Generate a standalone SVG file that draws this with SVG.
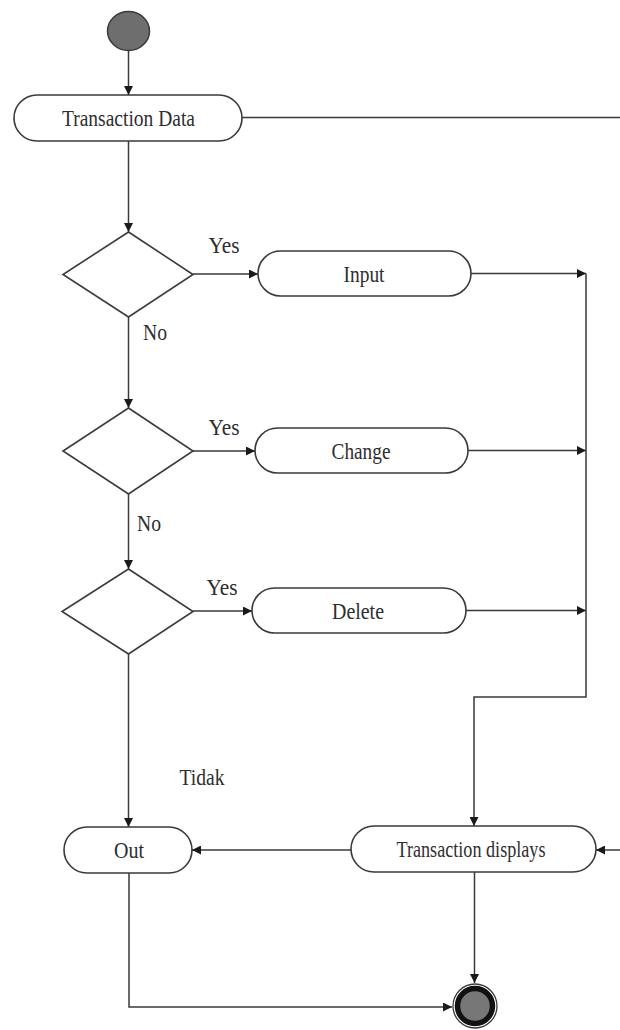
<svg xmlns="http://www.w3.org/2000/svg" width="620" height="1030" viewBox="0 0 620 1030">
  <style>
    .pill { fill: #ffffff; stroke: #3a3a3a; stroke-width: 1.6; }
    .dec { fill: #ffffff; stroke: #3a3a3a; stroke-width: 1.6; }
    .lbl { font-family: "Liberation Serif", "Times New Roman", serif; font-size: 24px; fill: #2e2e2e; text-anchor: middle; }
    .edge { fill: none; stroke: #3a3a3a; stroke-width: 1.5; }
    .arr { marker-end: url(#head); }
  </style>
  <defs>
    <marker id="head" viewBox="0 0 10 10" refX="10" refY="5" markerWidth="10" markerHeight="9" markerUnits="userSpaceOnUse" orient="auto">
      <path d="M0,0 L10,5 L0,10 Z" fill="#1a1a1a"/>
    </marker>
  </defs>

  <rect width="620" height="1030" fill="#ffffff"/>

  <!-- connectors -->
  <g id="connectors">
    <line class="edge arr" x1="128.5" y1="50" x2="128.5" y2="95"/>
    <line class="edge" x1="242" y1="117.5" x2="620" y2="117.5"/>
    <line class="edge arr" x1="128.5" y1="141" x2="128.5" y2="232"/>
    <line class="edge arr" x1="193" y1="274" x2="258" y2="274"/>
    <line class="edge arr" x1="128.5" y1="317" x2="128.5" y2="408"/>
    <line class="edge arr" x1="193" y1="451" x2="255" y2="451"/>
    <line class="edge arr" x1="128.5" y1="494" x2="128.5" y2="569"/>
    <line class="edge arr" x1="193" y1="611" x2="252" y2="611"/>
    <line class="edge arr" x1="128.5" y1="654" x2="128.5" y2="827"/>
    <line class="edge arr" x1="471" y1="273.5" x2="586" y2="273.5"/>
    <line class="edge arr" x1="468" y1="450.5" x2="586" y2="450.5"/>
    <line class="edge arr" x1="466" y1="610.5" x2="586" y2="610.5"/>
    <polyline class="edge arr" points="586,273.5 586,697 474,697 474,826"/>
    <line class="edge arr" x1="351" y1="850" x2="192" y2="850"/>
    <line class="edge arr" x1="620" y1="850" x2="596" y2="850"/>
    <line class="edge arr" x1="474.5" y1="872" x2="474.5" y2="983"/>
    <polyline class="edge arr" points="129,873 129,1007 452,1007"/>
  </g>

  <!-- start -->
  <g id="start">
    <ellipse cx="128.5" cy="31" rx="21" ry="19.5" fill="#6e6e6e" stroke="#3a3a3a" stroke-width="1.5"/>
  </g>

  <g id="transaction-data">
    <rect class="pill" x="14" y="95" width="228" height="46" rx="23"/>
    <text class="lbl" x="128.5" y="126" textLength="133" lengthAdjust="spacingAndGlyphs">Transaction Data</text>
  </g>

  <g id="decision-input">
    <polygon class="dec" points="128.5,232 193,274.5 128.5,317 63,274.5"/>
  </g>
  <g id="input">
    <rect class="pill" x="258" y="251" width="213" height="45" rx="22.5"/>
    <text class="lbl" x="364" y="282" textLength="41" lengthAdjust="spacingAndGlyphs">Input</text>
  </g>

  <g id="decision-change">
    <polygon class="dec" points="128.5,408 193,451 128.5,494 63,451"/>
  </g>
  <g id="change">
    <rect class="pill" x="255" y="428" width="213" height="45" rx="22.5"/>
    <text class="lbl" x="361" y="459" textLength="59" lengthAdjust="spacingAndGlyphs">Change</text>
  </g>

  <g id="decision-delete">
    <polygon class="dec" points="128.5,569 193,611.5 128.5,654 62,611.5"/>
  </g>
  <g id="delete">
    <rect class="pill" x="252" y="588" width="214" height="45" rx="22.5"/>
    <text class="lbl" x="358" y="619" textLength="52" lengthAdjust="spacingAndGlyphs">Delete</text>
  </g>

  <g id="out">
    <rect class="pill" x="64" y="827" width="128" height="46" rx="23"/>
    <text class="lbl" x="129" y="858" textLength="30" lengthAdjust="spacingAndGlyphs">Out</text>
  </g>

  <g id="transaction-displays">
    <rect class="pill" x="351" y="826" width="245" height="46" rx="23"/>
    <text class="lbl" x="471" y="857" textLength="149" lengthAdjust="spacingAndGlyphs">Transaction displays</text>
  </g>

  <!-- end -->
  <g id="end">
    <circle cx="475" cy="1006" r="22" fill="#ffffff" stroke="#3a3a3a" stroke-width="1.3"/>
    <circle cx="475" cy="1006" r="17.5" fill="#777777" stroke="#111111" stroke-width="5.5"/>
  </g>

  <!-- branch labels -->
  <g id="labels">
    <text class="lbl" x="224" y="253" textLength="31" lengthAdjust="spacingAndGlyphs">Yes</text>
    <text class="lbl" x="155" y="340" textLength="24" lengthAdjust="spacingAndGlyphs">No</text>
    <text class="lbl" x="224" y="435" textLength="31" lengthAdjust="spacingAndGlyphs">Yes</text>
    <text class="lbl" x="149" y="531" textLength="24" lengthAdjust="spacingAndGlyphs">No</text>
    <text class="lbl" x="222" y="595" textLength="31" lengthAdjust="spacingAndGlyphs">Yes</text>
    <text class="lbl" x="202" y="785" textLength="45" lengthAdjust="spacingAndGlyphs">Tidak</text>
  </g>
</svg>
